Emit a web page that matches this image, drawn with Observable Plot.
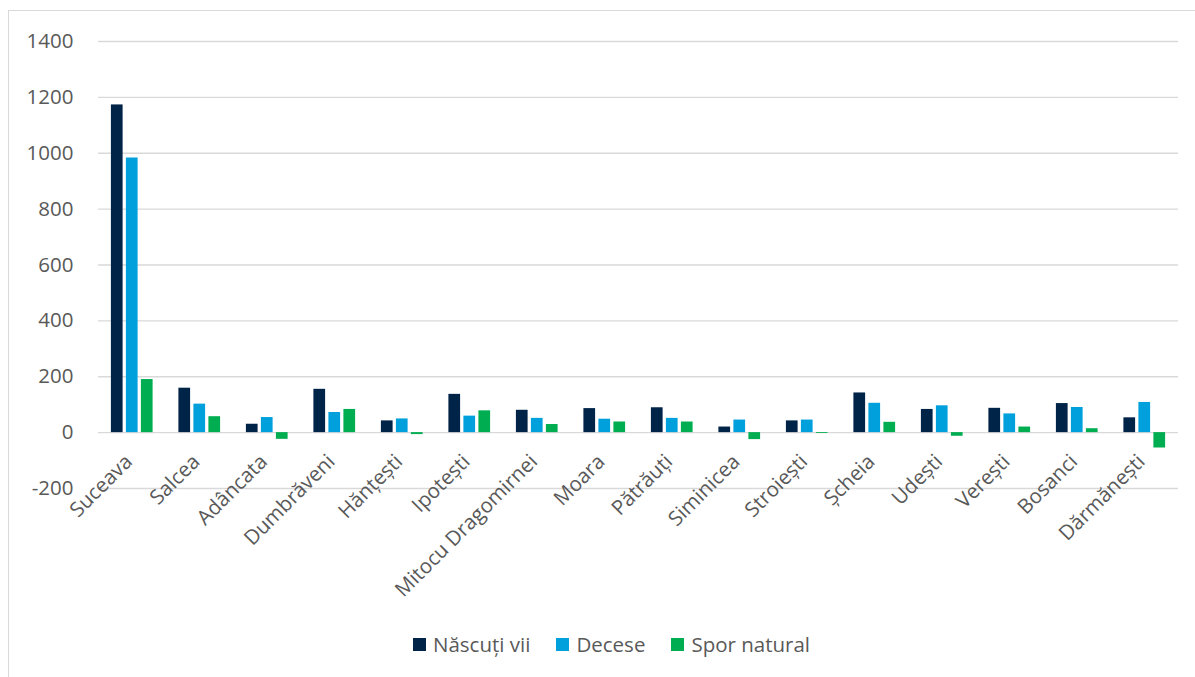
<!DOCTYPE html>
<html>
<head>
<meta charset="utf-8">
<script src="https://cdn.jsdelivr.net/npm/d3@7"></script>
<script src="https://cdn.jsdelivr.net/npm/@observablehq/plot@0.6"></script>
<style>
  html, body { margin: 0; padding: 0; background: #fff; overflow: hidden; }
  body { width: 1195px; height: 677px; position: relative; font-family: "Open Sans", sans-serif; }
  #frame { position: absolute; left: 8px; top: 10px; width: 1300px; height: 800px; border-left: 1.5px solid #d9d9d9; border-top: 1.5px solid #d9d9d9; }
  #chart { position: absolute; left: 0; top: 0; }
  #legend { position: absolute; left: 413px; top: 630px; display: flex; align-items: center; font-size: 20.5px; color: #595959; }
  #legend .item { display: flex; align-items: center; margin-right: 26px; }
  #legend .sw { width: 13px; height: 13px; margin-right: 7px; }
</style>
</head>
<body>
<div id="frame"></div>
<div id="chart"></div>
<div id="legend"></div>
<script>
const categories = ["Suceava","Salcea","Adâncata","Dumbrăveni","Hănțești","Ipotești","Mitocu Dragomirnei","Moara","Pătrăuți","Siminicea","Stroiești","Șcheia","Udești","Verești","Bosanci","Dărmănești"];
const nascutiVii = [1173, 159, 30, 155, 42, 137, 80, 86, 89, 20, 42, 142, 83, 87, 104, 53];
const decese     = [983, 102, 54, 72, 49, 59, 51, 48, 51, 45, 45, 105, 96, 67, 90, 108];
const sporNatural= [190, 57, -24, 83, -7, 78, 29, 38, 38, -25, -3, 37, -13, 20, 14, -55];
const seriesNames = ["Născuți vii", "Decese", "Spor natural"];
const seriesColors = ["#002448", "#00A0DC", "#00AD50"];
const yTicks = [-200, 0, 200, 400, 600, 800, 1000, 1200, 1400];

const seriesData = [nascutiVii, decese, sporNatural];
const offsets = [-15, 0, 15];
const bw = 67.5, barW = 11.7, inset = (bw - barW) / 2;

const barMarks = seriesData.map((vals, s) =>
  Plot.barY(categories, {
    x: d => d,
    y: (d, i) => vals[i],
    fill: seriesColors[s],
    insetLeft: inset,
    insetRight: inset,
    dx: offsets[s]
  })
);

const chart = Plot.plot({
  width: 1195,
  height: 610,
  marginLeft: 98,
  marginRight: 17,
  marginTop: 41,
  marginBottom: 122,
  style: { fontFamily: "Open Sans, sans-serif", fontSize: "20.5px", color: "#595959", background: "transparent" },
  x: { domain: categories, padding: 0, round: false, axis: null },
  y: { domain: [-200, 1400], ticks: yTicks, label: null },
  marks: [
    Plot.gridY(yTicks, { stroke: "#d9d9d9", strokeOpacity: 1, strokeWidth: 1.3 }),
    Plot.axisY(yTicks, { tickSize: 0, tickPadding: 25, label: null, fill: "#595959", fontSize: 20.5, tickFormat: d => String(d) }),
    ...barMarks,
    Plot.text(categories, {
      x: d => d,
      y: d => 0,
      text: d => d,
      rotate: -45,
      textAnchor: "end",
      lineAnchor: "top",
      dx: -9,
      dy: 20,
      fill: "#595959",
      fontSize: 20.5
    })
  ]
});
document.getElementById("chart").appendChild(chart);

const legend = document.getElementById("legend");
seriesNames.forEach((name, i) => {
  const item = document.createElement("div");
  item.className = "item";
  const sw = document.createElement("div");
  sw.className = "sw";
  sw.style.background = seriesColors[i];
  const t = document.createElement("span");
  t.textContent = name;
  item.appendChild(sw);
  item.appendChild(t);
  legend.appendChild(item);
});
</script>
</body>
</html>
